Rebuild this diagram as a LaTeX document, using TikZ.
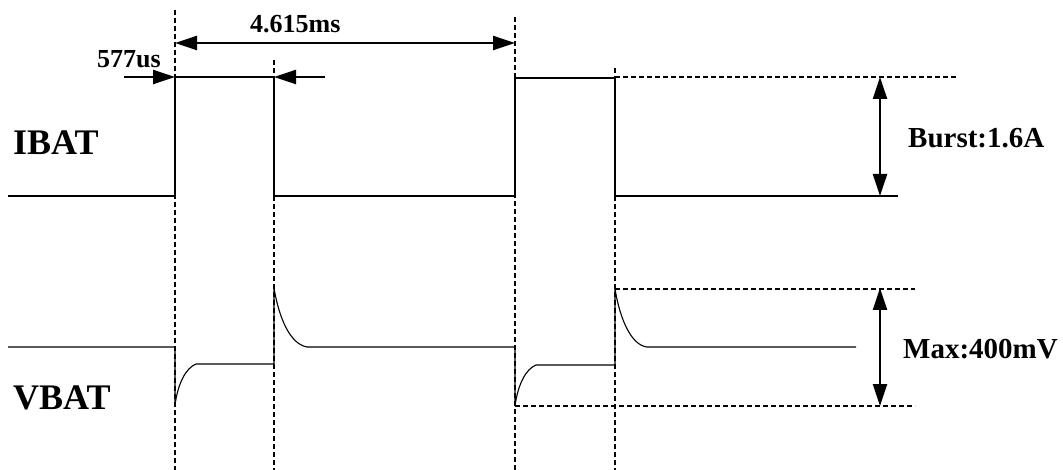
\documentclass[tikz,border=0pt]{standalone}
\usepackage{fontspec}
\setmainfont{Liberation Serif}
\usetikzlibrary{arrows.meta}
\tikzset{
  sig/.style={line width=1.1pt, line join=miter},
  guide/.style={line width=1.3pt, dash pattern=on 5pt off 3pt},
  dim/.style={line width=2.4pt, {Triangle[length=22pt,width=14pt]}-{Triangle[length=22pt,width=14pt]}},
  dimr/.style={line width=2.4pt, -{Triangle[length=22pt,width=14pt]}},
  big/.style={inner sep=0pt, anchor=base west, font=\bfseries\fontsize{36}{42}\selectfont},
  mid/.style={inner sep=0pt, anchor=base west, font=\bfseries\fontsize{29}{34}\selectfont},
  sml/.style={inner sep=0pt, anchor=base west, font=\bfseries\fontsize{26}{30}\selectfont},
}
\begin{document}
\begin{tikzpicture}[x=1pt,y=-1pt]
\useasboundingbox (0,0) rectangle (1063,470);
% named coordinates
\coordinate (d1t) at (175,10);  \coordinate (d1b) at (175,470);
\coordinate (d2t) at (274,60);  \coordinate (d2b) at (274,470);
\coordinate (d3t) at (515,17);  \coordinate (d3b) at (515,470);
\coordinate (d4t) at (615,68);  \coordinate (d4b) at (615,470);
% dashed guides
\draw[guide] (d1t) -- (d1b);
\draw[guide] (d2t) -- (d2b);
\draw[guide] (d3t) -- (d3b);
\draw[guide] (d4t) -- (d4b);
\draw[guide] (615,77) -- (957,77);
\draw[guide] (615,289) -- (915,289);
\draw[guide] (515,406) -- (915,406);
% IBAT
\draw[sig] (8,196) -- (175,196) -- (175,77) -- (274,77) -- (274,196) -- (515,196)
  -- (515,78) -- (615,78) -- (615,196) -- (898,196);
% VBAT
\draw[sig] (8,347) -- (175,347) -- (175,405)
  .. controls (178,383) and (186,368) .. (196,364) -- (274,364) -- (274,288)
  .. controls (279,318) and (290,344) .. (307,347) -- (515,347) -- (515,406)
  .. controls (518,384) and (526,369) .. (536,365) -- (615,365) -- (615,289)
  .. controls (620,319) and (631,345) .. (647,347) -- (856,347);
% dimension arrows
\coordinate (p1) at (175,43); \coordinate (p2) at (515,43);
\draw[dim] (p1) -- (p2);
\coordinate (w1) at (124,77); \coordinate (w2) at (175,77);
\coordinate (w3) at (325,77); \coordinate (w4) at (274,77);
\draw[dimr] (w1) -- (w2);
\draw[dimr] (w3) -- (w4);
\coordinate (b1) at (880,77); \coordinate (b2) at (880,196);
\draw[dim] (b1) -- (b2);
\coordinate (m1) at (880,288); \coordinate (m2) at (880,406);
\draw[dim] (m1) -- (m2);
% labels
\node[big] (ibat) at (13,155) {IBAT};
\node[big] (vbat) at (13,409) {VBAT};
\node[mid] (burst) at (908,148) {Burst:1.6A};
\node[mid] (maxv) at (903,358) {Max:400mV};
\node[sml] (per) at (250,33) {4.615ms};
\node[sml] (wid) at (97,68) {577us};
\end{tikzpicture}
\end{document}
